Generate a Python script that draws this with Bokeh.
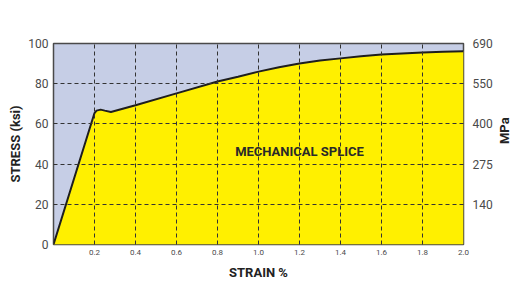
import math
from bokeh.plotting import figure
from bokeh.models import Range1d, LinearAxis, FixedTicker, Label
from bokeh.embed import file_html
from bokeh.resources import INLINE

strain = [0, 0.2, 0.21, 0.23, 0.25, 0.28, 0.4, 0.6, 0.8, 0.9, 1.0, 1.1, 1.2, 1.3, 1.4, 1.5, 1.6, 1.7, 1.8, 1.9, 2.0]
stress = [0, 65.4, 66.6, 67.1, 66.6, 65.9, 69.3, 75.2, 81.1, 83.5, 86.0, 88.2, 90.1, 91.5, 92.6, 93.6, 94.5, 95.0, 95.5, 95.9, 96.2]

x_ticks = [0.2, 0.4, 0.6, 0.8, 1.0, 1.2, 1.4, 1.6, 1.8, 2.0]
x_labels = ["0.2", "0.4", "0.6", "0.8", "1.0", "1.2", "1.4", "1.6", "1.8", "2.0"]
ksi_ticks = [0, 20, 40, 60, 80, 100]
mpa_ticks = [20, 40, 60, 80, 100]
mpa_labels = ["140", "275", "400", "550", "690"]
x_grid = [0.2, 0.4, 0.6, 0.8, 1.0, 1.2, 1.4, 1.6, 1.8]
y_grid = [20, 40, 60, 80]
annotation = "MECHANICAL SPLICE"
right_title = "MPa"

FONT = "Roboto"

p = figure(frame_width=410, frame_height=201, output_backend="svg", toolbar_location=None,
           x_range=Range1d(0, 2.0), y_range=Range1d(0, 100),
           min_border_left=53, min_border_right=53, min_border_top=43, min_border_bottom=57,
           background_fill_color="#c6cee6", border_fill_color="white",
           outline_line_color="#4a4a4a", outline_line_width=1.5)

p.varea(x=strain, y1=[0] * len(strain), y2=stress, fill_color="#fff000")
p.line(x=strain, y=stress, line_color="#1e1e1e", line_width=2)

# grid on top
for g in (p.xgrid, p.ygrid):
    g.level = "overlay"
    g.grid_line_color = "#333333"
    g.grid_line_dash = "4 3"
    g.grid_line_width = 1
p.xgrid.ticker = FixedTicker(ticks=x_grid)
p.ygrid.ticker = FixedTicker(ticks=y_grid)

# bottom axis
xa = p.xaxis[0]
xa.ticker = FixedTicker(ticks=x_ticks)
xa.major_label_overrides = {t: l for t, l in zip(x_ticks, x_labels)}
xa.axis_label = "STRAIN %"

# left axis
ya = p.yaxis[0]
ya.ticker = FixedTicker(ticks=ksi_ticks)
ya.axis_label = "STRESS (ksi)"

# right axis
p.extra_y_ranges = {"mpa": Range1d(0, 100)}
ra = LinearAxis(y_range_name="mpa", ticker=FixedTicker(ticks=mpa_ticks),
                major_label_overrides={t: l for t, l in zip(mpa_ticks, mpa_labels)},
                axis_label=right_title)
if "axis_label_orientation" in LinearAxis.properties():
    ra.axis_label_orientation = math.pi / 2
p.add_layout(ra, "right")

for ax in (xa, ya, ra):
    ax.axis_line_color = None
    ax.major_tick_line_color = None
    ax.minor_tick_line_color = None
    ax.major_tick_in = 0
    ax.major_tick_out = 0
    ax.major_label_text_font = FONT
    ax.major_label_text_color = "#4a4a4a"
    ax.axis_label_text_font = FONT
    ax.axis_label_text_font_style = "bold"
    ax.axis_label_text_font_size = "13px"
    ax.axis_label_text_color = "#222222"

xa.major_label_text_font_size = "8px"
xa.major_label_standoff = 5
xa.axis_label_standoff = 7
ya.major_label_text_font_size = "12px"
ya.major_label_standoff = 5
ya.axis_label_standoff = 2
ra.major_label_text_font_size = "12px"
ra.major_label_standoff = 9
ra.axis_label_standoff = 9

p.add_layout(Label(x=1.2, y=46.5, text=annotation, text_align="center", text_baseline="middle",
                   text_font=FONT, text_font_style="bold", text_font_size="13px",
                   text_color="#2a2a2a"))

open("out.html", "w").write(file_html(p, INLINE))
